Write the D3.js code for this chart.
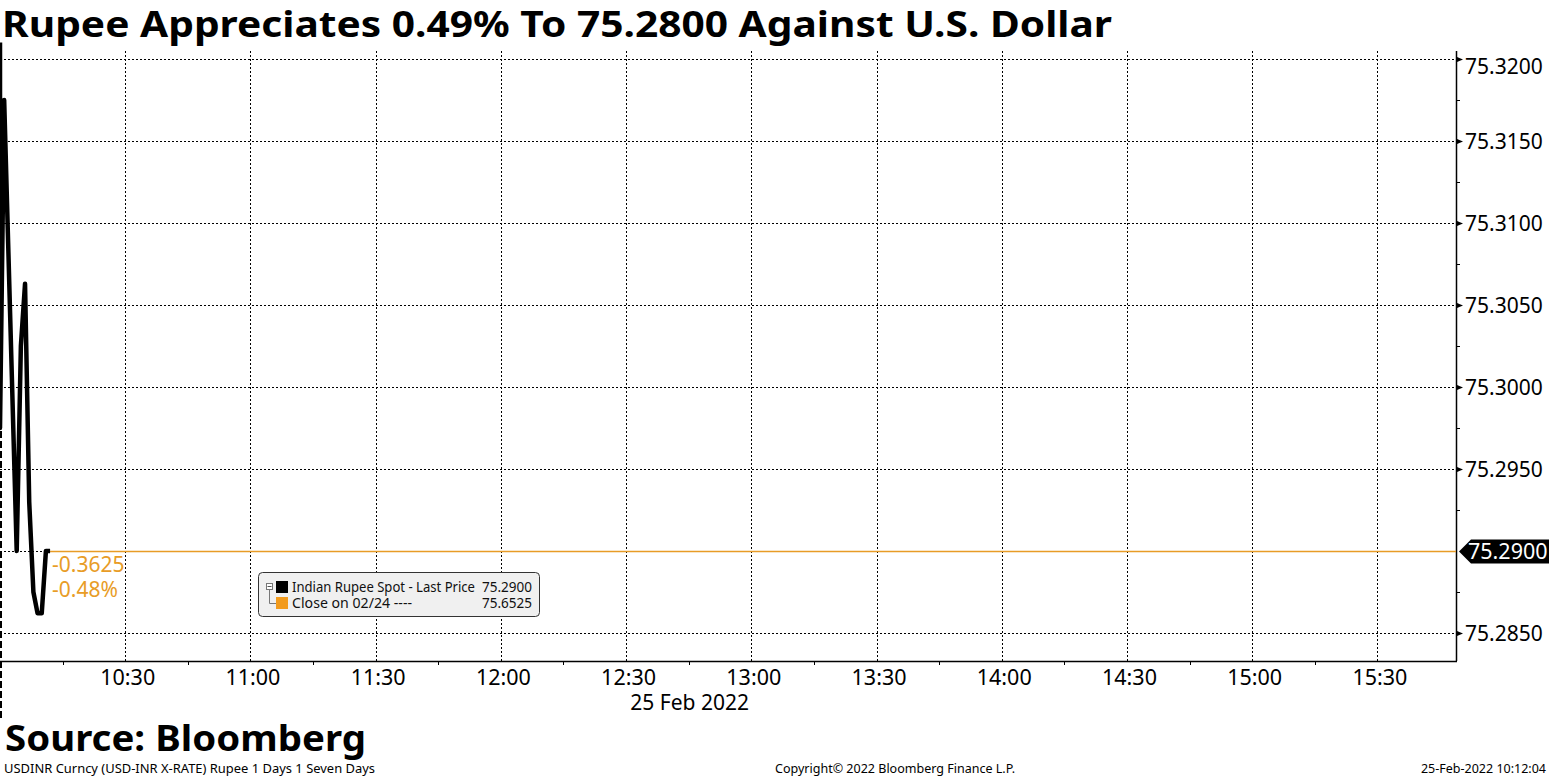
<!DOCTYPE html>
<html><head><meta charset="utf-8">
<script src="https://cdn.jsdelivr.net/npm/d3@7"></script>
<style>
body{margin:0;background:#fff;}
svg{display:block;font-family:"Noto Sans",sans-serif;}
</style>
</head><body>
<svg id="chart" width="1549" height="777"></svg>
<script>
// ---------- DATA ----------
const times  = ["10:00:00","10:00:00","10:01:00","10:04:00","10:05:00","10:06:00","10:07:00","10:08:00","10:09:00","10:10:00","10:11:00","10:12:00"];
const prices = [75.3210, 75.2975, 75.3175, 75.2900, 75.3025, 75.3063, 75.2930, 75.2875, 75.2862, 75.2862, 75.2900, 75.2900];
const yTickValues = [75.285, 75.290, 75.295, 75.300, 75.305, 75.310, 75.315, 75.320];
const xTickLabels = ["10:30","11:00","11:30","12:00","12:30","13:00","13:30","14:00","14:30","15:00","15:30"];
const lastPrice = 75.2900;
const priorClose = 75.6525;
const dateLabel = "25 Feb 2022";
const titleText = "Rupee Appreciates 0.49% To 75.2800 Against U.S. Dollar";
const sourceText = "Source: Bloomberg";
const footerLeft = "USDINR Curncy (USD-INR X-RATE) Rupee 1 Days 1 Seven Days";
const footerMid = "Copyright\u00A9 2022 Bloomberg Finance L.P.";
const footerRight = "25-Feb-2022 10:12:04";
const legendNames = ["Indian Rupee Spot - Last Price", "Close on 02/24 ----"];
const legendValues = [lastPrice, priorClose];
const legendColors = ["#000000", "#f29b1d"];

// ---------- LAYOUT ----------
const svg = d3.select("#chart");
const W = 1549, H = 777;
const plot = {left: 0, right: 1456, top: 51, bottom: 661};
const ORANGE = "#e89c26";
const parse = d3.timeParse("%H:%M:%S");
const parseHM = d3.timeParse("%H:%M");

const x = d3.scaleTime()
  .domain([parse("10:00:00"), parse("15:48:50")])
  .range([plot.left, plot.right]);
const y = d3.scaleLinear()
  .domain([75.285, 75.320])
  .range([633, 59]);

const data = times.map((t, i) => ({t: parse(t), v: prices[i]}));

// title
svg.append("text").attr("x", 2).attr("y", 37)
  .attr("font-size", 35).attr("font-weight", 700)
  .attr("textLength", 1110).attr("lengthAdjust", "spacingAndGlyphs")
  .text(titleText);

// clip
svg.append("clipPath").attr("id", "clip").append("rect")
  .attr("x", plot.left).attr("y", 30).attr("width", plot.right - plot.left).attr("height", plot.bottom - 30);

// horizontal gridlines
svg.append("g").selectAll("line").data(yTickValues).join("line")
  .attr("x1", plot.left).attr("x2", plot.right)
  .attr("y1", d => Math.round(y(d)) + 0.5).attr("y2", d => Math.round(y(d)) + 0.5)
  .attr("stroke", "#000").attr("stroke-width", 1).attr("stroke-dasharray", "2,2");

// vertical gridlines
const xMajor = xTickLabels.map(s => parseHM(s));
svg.append("g").selectAll("line").data(xMajor).join("line")
  .attr("x1", d => Math.round(x(d)) + 0.5).attr("x2", d => Math.round(x(d)) + 0.5)
  .attr("y1", plot.top).attr("y2", plot.bottom)
  .attr("stroke", "#000").attr("stroke-width", 1).attr("stroke-dasharray", "2,2");

// left session divider (dashed)
svg.append("line").attr("x1", 1).attr("x2", 1).attr("y1", plot.top).attr("y2", 718)
  .attr("stroke", "#000").attr("stroke-width", 2).attr("stroke-dasharray", "7,3");

// bottom axis (labels)
const xAxis = d3.axisBottom(x).tickValues(xMajor).tickFormat(d3.timeFormat("%H:%M")).tickSize(0);
const gx = svg.append("g").attr("transform", `translate(0,${plot.bottom})`).call(xAxis);
gx.select(".domain").remove();
gx.selectAll("text").attr("y", 24).attr("dy", 0).attr("font-size", 21.5)
  .attr("font-family", "Noto Sans, sans-serif").attr("fill", "#000")
  .attr("transform", "translate(2,0)");
// minor ticks
const xMinor = xMajor.map(d => d3.timeMinute.offset(d, -15));
svg.append("g").selectAll("line").data(xMinor).join("line")
  .attr("x1", d => Math.round(x(d)) + 0.5).attr("x2", d => Math.round(x(d)) + 0.5)
  .attr("y1", plot.bottom).attr("y2", plot.bottom + 4)
  .attr("stroke", "#000").attr("stroke-width", 1);
svg.append("line").attr("x1", plot.left).attr("x2", plot.right + 1)
  .attr("y1", plot.bottom + 0.5).attr("y2", plot.bottom + 0.5)
  .attr("stroke", "#000").attr("stroke-width", 1.5);

// date label
svg.append("text").attr("x", x(parseHM("12:45")) + 1).attr("y", 710)
  .attr("text-anchor", "middle").attr("font-size", 21).text(dateLabel);

// right axis
svg.append("line").attr("x1", plot.right + 0.5).attr("x2", plot.right + 0.5)
  .attr("y1", plot.top).attr("y2", plot.bottom)
  .attr("stroke", "#000").attr("stroke-width", 1.5);
const yMinor = yTickValues.slice(1).map(v => v - 0.0025);
svg.append("g").selectAll("line").data(yMinor).join("line")
  .attr("x1", plot.right).attr("x2", plot.right + 4)
  .attr("y1", d => Math.round(y(d)) + 0.5).attr("y2", d => Math.round(y(d)) + 0.5)
  .attr("stroke", "#000").attr("stroke-width", 1);
const yLabels = yTickValues.filter(v => Math.abs(v - lastPrice) > 1e-9);
svg.append("g").selectAll("path").data(yLabels).join("path")
  .attr("d", d => { const yy = y(d) + 0.5; return `M${plot.right+1},${yy-2.5}L${plot.right+7},${yy}L${plot.right+1},${yy+2.5}Z`; })
  .attr("fill", "#000");
svg.append("g").selectAll("text").data(yLabels).join("text")
  .attr("x", plot.right + 9)
  .attr("y", d => Math.max(y(d), 66))
  .attr("dy", "0.36em").attr("font-size", 21)
  .text(d => d3.format(".4f")(d));

// orange last-price line
const lastPt = data[data.length - 1];
svg.append("line").attr("x1", x(lastPt.t)).attr("x2", plot.right)
  .attr("y1", Math.round(y(lastPrice)) + 0.5).attr("y2", Math.round(y(lastPrice)) + 0.5)
  .attr("stroke", ORANGE).attr("stroke-width", 1.6);

// price line
const line = d3.line().x(d => x(d.t)).y(d => y(d.v));
svg.append("path").datum(data).attr("d", line).attr("clip-path", "url(#clip)")
  .attr("fill", "none").attr("stroke", "#000").attr("stroke-width", 4.5)
  .attr("stroke-linejoin", "round").attr("stroke-linecap", "butt");

// change labels
const chg = lastPrice - priorClose;
const pct = chg / priorClose * 100;
svg.append("text").attr("x", x(lastPt.t) + 2).attr("y", 572).attr("font-size", 21).attr("fill", ORANGE)
  .text(d3.format(".4f")(chg).replace("\u2212", "-"));
svg.append("text").attr("x", x(lastPt.t) + 2).attr("y", 597).attr("font-size", 21).attr("fill", ORANGE)
  .text(d3.format(".2f")(pct).replace("\u2212", "-") + "%");

// last price tag
const ly = y(lastPrice) + 0.5;
svg.append("path")
  .attr("d", `M${plot.right+3},${ly}L${plot.right+15},${ly-12}L${W},${ly-12}L${W},${ly+12}L${plot.right+15},${ly+12}Z`)
  .attr("fill", "#000");
svg.append("text").attr("x", plot.right + 12).attr("y", ly).attr("dy", "0.36em")
  .attr("font-size", 21.5).attr("fill", "#fff").text(d3.format(".4f")(lastPrice));

// legend
const lg = svg.append("g");
lg.append("rect").attr("x", 258.5).attr("y", 572.5).attr("width", 281).attr("height", 44).attr("rx", 4)
  .attr("fill", "#f0f0f0").attr("stroke", "#333").attr("stroke-width", 1);
lg.append("rect").attr("x", 266.5).attr("y", 583.5).attr("width", 6).attr("height", 6)
  .attr("fill", "#fff").attr("stroke", "#777").attr("stroke-width", 1);
lg.append("line").attr("x1", 267.5).attr("x2", 271.5).attr("y1", 586.5).attr("y2", 586.5).attr("stroke", "#555");
lg.append("path").attr("d", "M269.5,590V603.5H276").attr("fill", "none").attr("stroke", "#777").attr("stroke-width", 1);
legendNames.forEach((name, i) => {
  const yy = 587 + i * 16;
  lg.append("rect").attr("x", 276).attr("y", yy - 6).attr("width", 12).attr("height", 12).attr("fill", legendColors[i]);
  lg.append("text").attr("x", 292).attr("y", yy + 5).attr("font-size", 13.5).attr("fill", "#111")
    .attr("textLength", i === 0 ? 183 : 120).attr("lengthAdjust", "spacingAndGlyphs").text(name);
  lg.append("text").attr("x", 532).attr("y", yy + 5).attr("font-size", 13.5).attr("fill", "#111")
    .attr("text-anchor", "end").attr("textLength", 50).attr("lengthAdjust", "spacingAndGlyphs")
    .text(d3.format(".4f")(legendValues[i]));
});

// source and footer
svg.append("text").attr("x", 5).attr("y", 751).attr("font-size", 35).attr("font-weight", 700)
  .attr("textLength", 361).attr("lengthAdjust", "spacingAndGlyphs").text(sourceText);
svg.append("text").attr("x", 4).attr("y", 773).attr("font-size", 12.5)
  .attr("textLength", 371).attr("lengthAdjust", "spacingAndGlyphs").text(footerLeft);
svg.append("text").attr("x", 775).attr("y", 773).attr("font-size", 12.5)
  .attr("textLength", 240).attr("lengthAdjust", "spacingAndGlyphs").text(footerMid);
svg.append("text").attr("x", 1546).attr("y", 773).attr("font-size", 12.5).attr("text-anchor", "end")
  .text(footerRight);
</script>
</body></html>
